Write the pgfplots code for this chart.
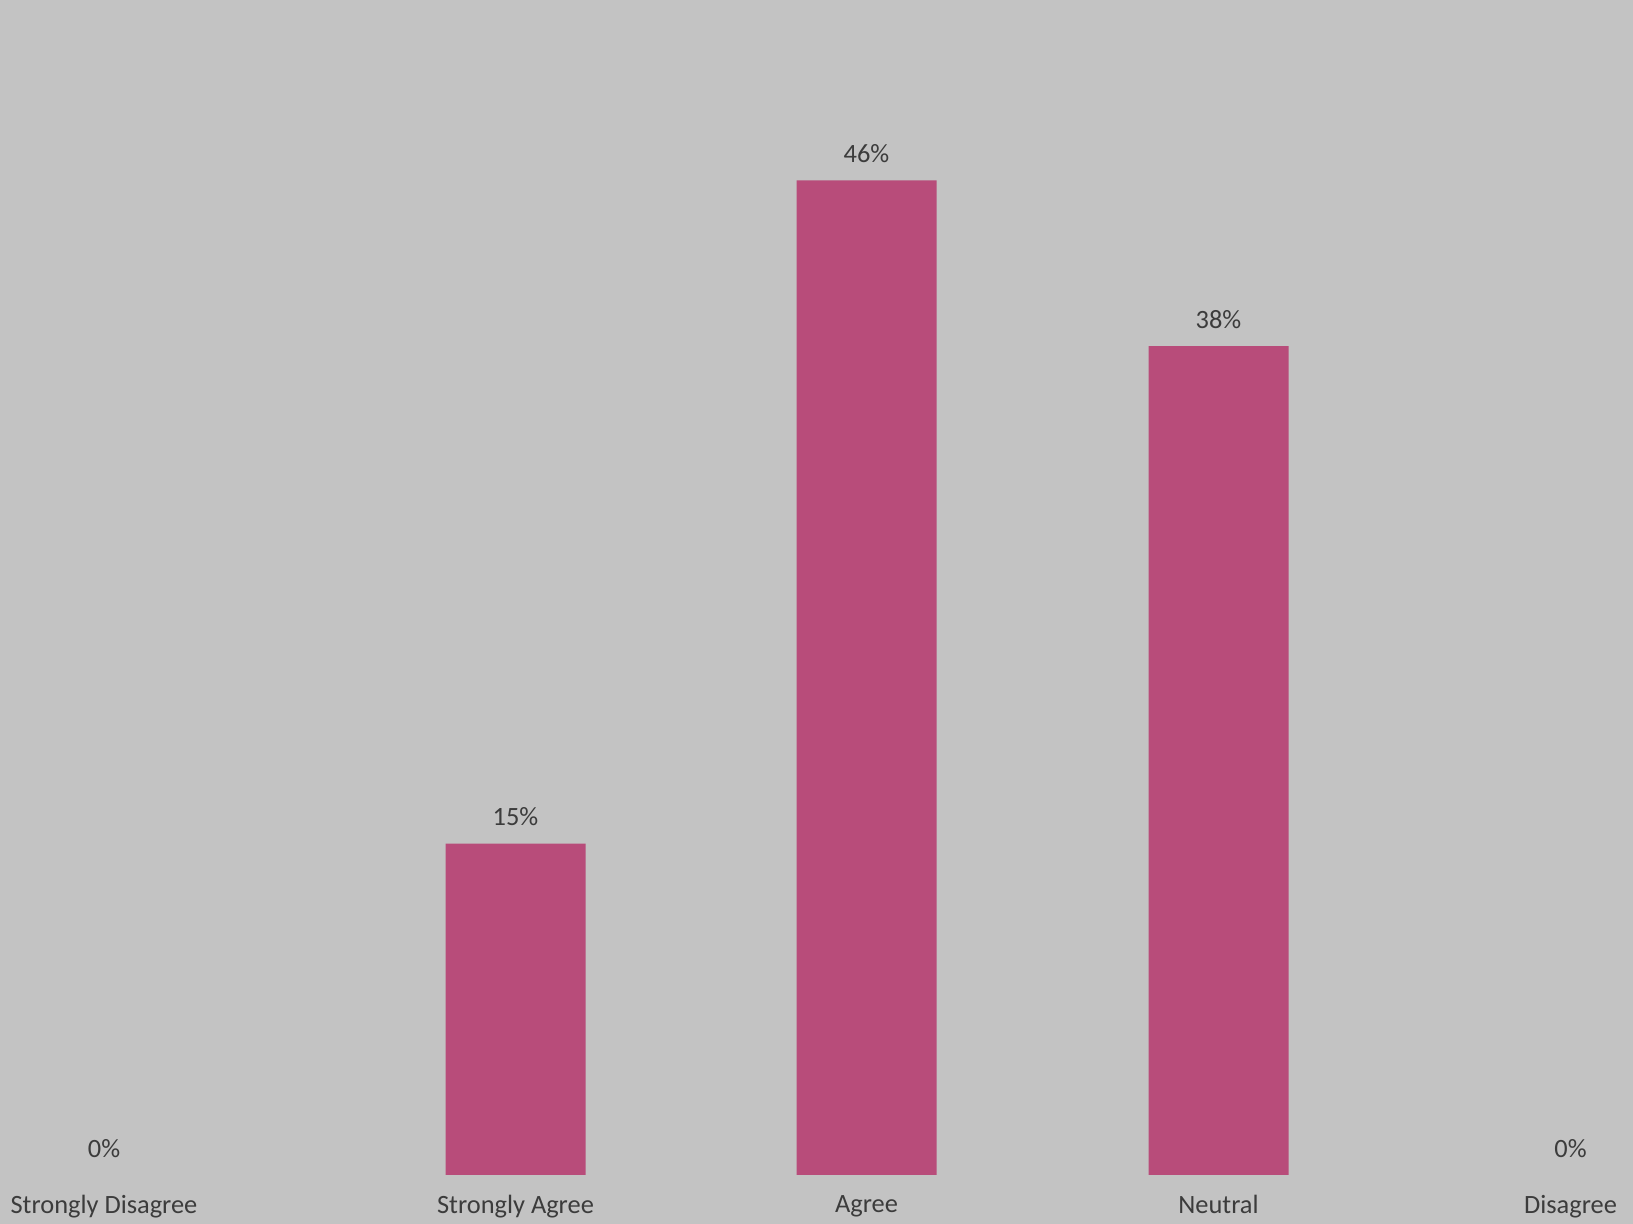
\documentclass[border=0pt]{standalone}
\usepackage{pgfplots}
\pgfplotsset{compat=1.18}
\usepackage{fontspec}
\setmainfont{Carlito}
\definecolor{bgc}{RGB}{195,195,195}
\definecolor{barc}{RGB}{184,76,122}
\definecolor{txt}{RGB}{60,60,60}
\begin{document}
\begin{tikzpicture}
\useasboundingbox (0pt,0pt) rectangle (816.5pt,612pt);
\fill[bgc] (0pt,0pt) rectangle (816.5pt,612pt);
\clip (0pt,0pt) rectangle (816.5pt,612pt);
\begin{axis}[
  at={(0pt,24.5pt)}, anchor=south west,
  scale only axis, width=816.5pt, height=587.5pt,
  xmin=0, xmax=1633, ymin=0, ymax=54.52,
  axis line style={draw=none},
  major tick length=0pt,
  ytick=\empty,
  xtick={104,515.5,866.5,1218.5,1570.5},
  xticklabels={Strongly Disagree,Strongly Agree,Agree,Neutral,Disagree},
  xticklabel style={font=\fontsize{13.2}{15}\selectfont, text=txt, inner sep=0pt, anchor=north, yshift=-10pt},
  ybar, bar width=140, bar shift=0pt,
  /pgf/number format/assume math mode=true,
  nodes near coords={\pgfmathprintnumber[fixed,precision=0]{\pgfplotspointmeta}\%},
  every node near coord/.append style={font=\fontsize{13.2}{15}\selectfont, text=txt, inner sep=0pt, anchor=south, yshift=8.5pt},
  clip=false,
]
\addplot[fill=barc, draw=none] coordinates {(515.5,15.38) (866.5,46.15) (1218.5,38.46)};
\addplot[fill=none, draw=none] coordinates {(104,0) (1570.5,0)};
\end{axis}
\end{tikzpicture}
\end{document}
